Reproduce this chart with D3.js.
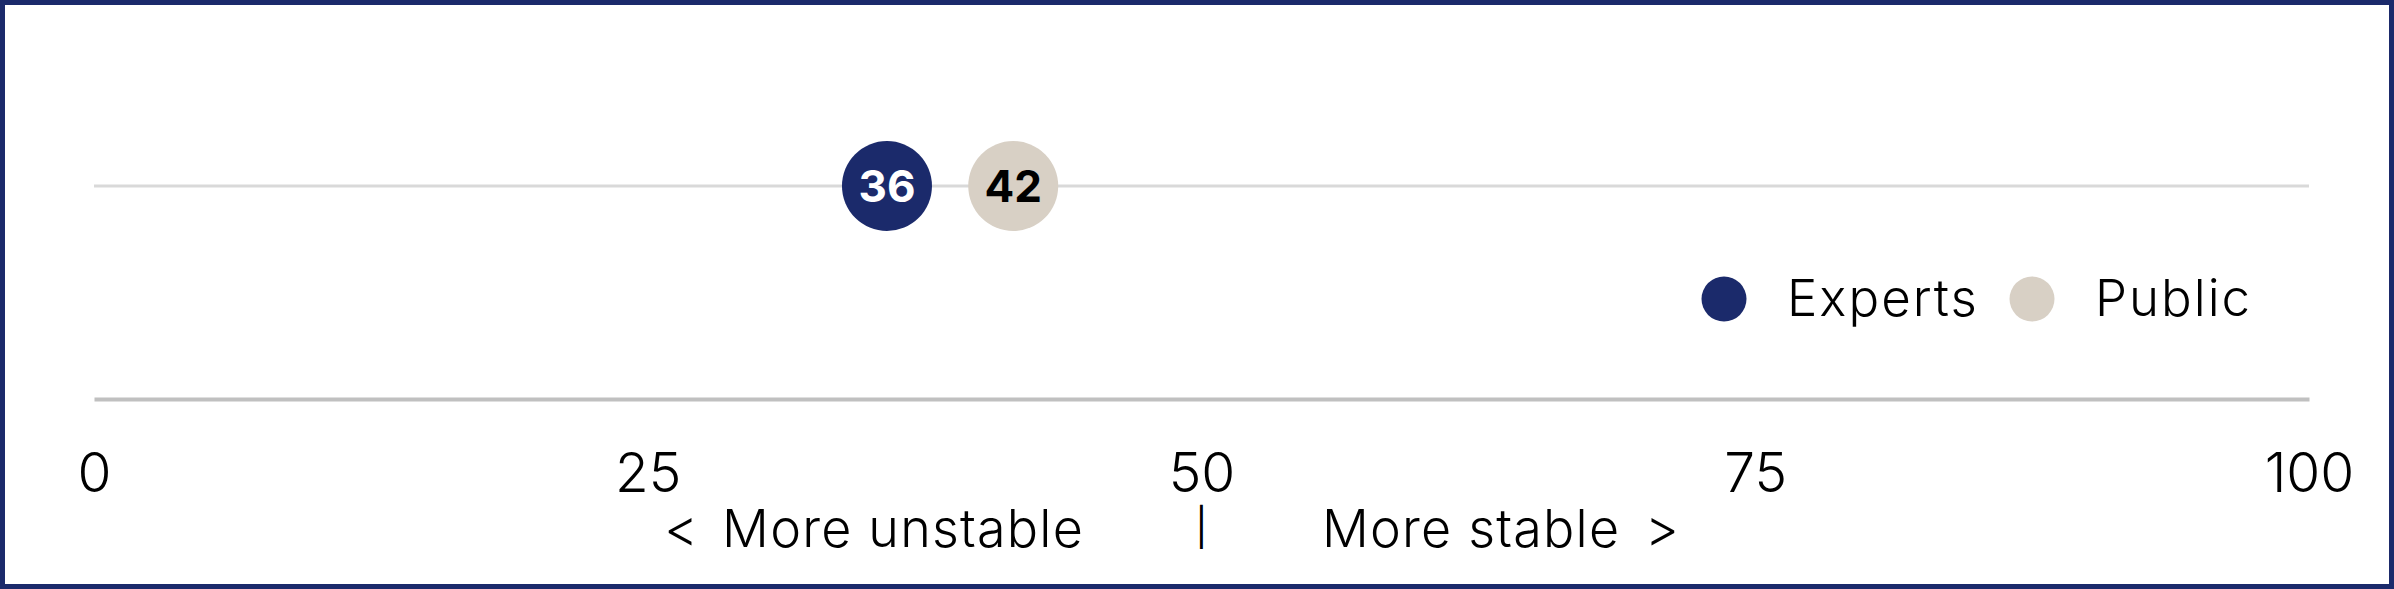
<!DOCTYPE html>
<html><head><meta charset="utf-8">
<script src="https://cdn.jsdelivr.net/npm/d3@7"></script>
<style>
html,body{margin:0;padding:0;background:#fff;}
svg{display:block;}
text{font-family:Inter,"Liberation Sans",Arial,sans-serif;}
</style></head>
<body><svg id="chart" width="2394" height="589"></svg>
<script>
const seriesNames = ["Experts", "Public"];
const seriesValues = [35.8, 41.5];
const seriesColors = ["#1b2a6b", "#d8d0c5"];
const labelColors = ["#ffffff", "#000000"];
const tickValues = [0, 25, 50, 75, 100];
const directionLabels = ["<", "More unstable", "|", "More stable", ">"];

const W = 2394, H = 589;
const FONT = "Inter, Liberation Sans, Arial, sans-serif";
const svg = d3.select("#chart");
svg.append("rect").attr("x", 2.5).attr("y", 2.5).attr("width", W - 5).attr("height", H - 5)
  .attr("fill", "#fff").attr("stroke", "#1b2a6b").attr("stroke-width", 5);

const x = d3.scaleLinear().domain([0, 100]).range([94, 2309]);
const rowY = 186, axisY = 399;

// row gridline
svg.append("line").attr("x1", x(0)).attr("x2", x(100)).attr("y1", rowY).attr("y2", rowY)
  .attr("stroke", "#d9d9d9").attr("stroke-width", 3);

// axis
const axis = d3.axisBottom(x).tickValues(tickValues).tickSize(0).tickPadding(0).tickFormat(d3.format("d"));
const gA = svg.append("g").attr("transform", `translate(0,${axisY})`).call(axis);
gA.select(".domain").attr("stroke", "#c0c0c0").attr("stroke-width", 4);
gA.selectAll(".tick text").attr("font-family", FONT).attr("font-weight", 300)
  .attr("font-size", 55).attr("fill", "#000").attr("dy", null).attr("y", 93);

// direction labels
const dirX = [681, 1084, x(50), 1322, 1662];
const dirAnchor = ["middle", "end", "middle", "start", "middle"];
const dirSize = [52, 52, 37, 52, 52];
const dirY = [547, 547, 540, 547, 547];
const dirWeight = [300, 300, 400, 300, 300];
svg.append("g").selectAll("text").data(directionLabels).join("text")
  .attr("x", (d, i) => dirX[i]).attr("y", (d, i) => dirY[i]).attr("text-anchor", (d, i) => dirAnchor[i])
  .attr("font-size", (d, i) => dirSize[i]).attr("font-weight", (d, i) => dirWeight[i])
  .attr("letter-spacing", (d, i) => (i === 1 || i === 3) ? 1.2 : 0)
  .attr("fill", "#000").text(d => d);

// dots
const dots = svg.append("g").selectAll("g").data(seriesValues).join("g")
  .attr("transform", d => `translate(${x(d)},${rowY})`);
dots.append("circle").attr("r", 45).attr("fill", (d, i) => seriesColors[i]);
dots.append("text").attr("text-anchor", "middle").attr("dy", "0.36em")
  .attr("font-size", 44).attr("font-weight", 700).attr("fill", (d, i) => labelColors[i])
  .text(d => d3.format(".0f")(d));

// legend
const legX = [1724, 2032];
const leg = svg.append("g").selectAll("g").data(seriesNames).join("g")
  .attr("transform", (d, i) => `translate(${legX[i]},299)`);
leg.append("circle").attr("r", 22.5).attr("fill", (d, i) => seriesColors[i]);
leg.append("text").attr("x", 63).attr("y", 17).attr("font-size", 51).attr("font-weight", 300)
  .attr("letter-spacing", 2).attr("fill", "#000").text(d => d);
</script></body></html>
